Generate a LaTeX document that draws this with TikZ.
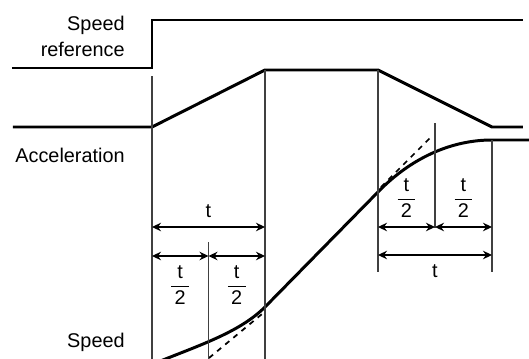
\documentclass[tikz,border=0pt]{standalone}
\usepackage{amsmath}
\usepackage{fontspec}
\setmainfont{Liberation Sans}
\usetikzlibrary{arrows.meta}

\newcommand{\halft}{$\dfrac{\text{\,t\,}}{\text{\,2\,}}$}

\begin{document}
\begin{tikzpicture}[x=0.02cm, y=-0.02cm,
	every node/.style={font=\fontsize{11.3}{14.7}\selectfont, inner sep=0pt},
	>={Stealth[length=1.8mm, width=1.7mm]},
	trace/.style={line width=1.7pt},
	markline/.style={black!75, line width=0.6pt},
	dim/.style={<->, line width=0.6pt}]
	\clip (0,0) rectangle (529,359);
	% time marks
	\coordinate (t0) at (152,0);
	\coordinate (h1) at (208.5,0);
	\coordinate (t1) at (265,0);
	\coordinate (t2) at (378,0);
	\coordinate (h2) at (435,0);
	\coordinate (t3) at (492,0);
	% labels
	\node[anchor=east, align=right] (lref) at (125,36) {Speed\\reference};
	\node[anchor=east] (lacc) at (125,155) {Acceleration};
	\node[anchor=east] (lspd) at (125,342) {Speed};
	% speed reference
	\draw[trace] (12,68) -- (t0 |- 0,68) -- (t0 |- 0,20) -- (523,20);
	% acceleration
	\draw[trace] (13,127) -- (t0 |- 0,127) -- (t1 |- 0,70) -- (t2 |- 0,70) -- (t3 |- 0,127) -- (523,127);
	% speed
	\draw[trace] (158,362) .. controls (200,345) and (240,332) .. (t1 |- 0,307) -- (t2 |- 0,192) .. controls (410,159) and (450,140) .. (t3 |- 0,140) -- (529,140);
	\draw[dashed, line width=1pt] (209,358) -- (262,314);
	\draw[dashed, line width=1pt] (381,187) -- (433,135);
	% marker lines
	\draw[markline] (t0 |- 0,76) -- (t0 |- 0,359);
	\draw[markline] (t1 |- 0,70) -- (t1 |- 0,359);
	\draw[markline] (h1 |- 0,242) -- (h1 |- 0,359);
	\draw[markline] (t2 |- 0,70) -- (t2 |- 0,272);
	\draw[markline] (h2 |- 0,123) -- (h2 |- 0,228);
	\draw[markline] (t3 |- 0,140) -- (t3 |- 0,272);
	% intervals, left
	\draw[dim] (t0 |- 0,227) -- node[above=5pt] (dt1) {t} (t1 |- 0,227);
	\draw[dim] (t0 |- 0,256) -- node[below=5pt] (dh1) {\halft} (h1 |- 0,256);
	\draw[dim] (h1 |- 0,256) -- node[below=5pt] (dh2) {\halft} (t1 |- 0,256);
	% intervals, right
	\draw[dim] (t2 |- 0,227) -- node[above=5pt] (dh3) {\halft} (h2 |- 0,227);
	\draw[dim] (h2 |- 0,227) -- node[above=5pt] (dh4) {\halft} (t3 |- 0,227);
	\draw[dim] (t2 |- 0,255) -- node[below=5pt] (dt2) {t} (t3 |- 0,255);
\end{tikzpicture}
\end{document}
